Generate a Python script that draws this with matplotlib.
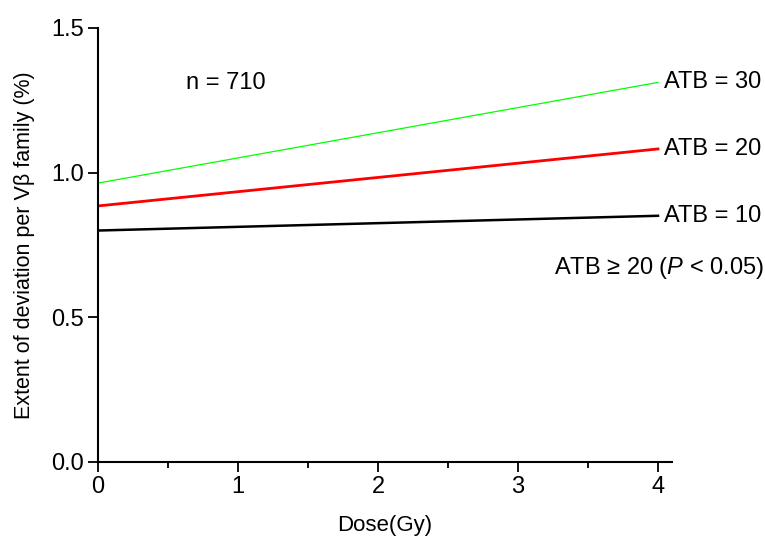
import matplotlib
matplotlib.use("Agg")
import matplotlib.pyplot as plt
from matplotlib.ticker import MultipleLocator

plt.rcParams['font.family'] = ['Liberation Sans', 'DejaVu Sans']
plt.rcParams['mathtext.fontset'] = 'custom'
plt.rcParams['mathtext.rm'] = 'Liberation Sans'
plt.rcParams['mathtext.it'] = 'Liberation Sans:italic'

dose = [0, 4]
atb30 = [0.964, 1.312]
atb20 = [0.885, 1.082]
atb10 = [0.800, 0.851]
series_labels = ["ATB = 30", "ATB = 20", "ATB = 10"]

fig = plt.figure(figsize=(7.65, 5.36), dpi=100)
ax = fig.add_axes([98/765, 1-462/536, (672-98)/765, (462-28)/536])

ax.plot(dose, atb30, color='#00ff00', lw=0.9)
ax.plot(dose, atb20, color='#ff0000', lw=2.0)
ax.plot(dose, atb10, color='black', lw=1.8)

for yv, lab in zip([atb30[-1], atb20[-1], atb10[-1]], series_labels):
    ax.text(4.04, yv, lab, fontsize=17, ha='left', va='center', clip_on=False)

ax.text(0.91, 1.31, "n = 710", fontsize=17, ha='center', va='center')
ax.text(4.76, 0.67, "ATB \u2265 20 ($\\it{P}$ < 0.05)", fontsize=17, ha='right', va='center', clip_on=False)

ax.set_xlim(0, 4.1)
ax.set_ylim(0, 1.5)
ax.xaxis.set_major_locator(MultipleLocator(1))
ax.xaxis.set_minor_locator(MultipleLocator(0.5))
ax.yaxis.set_major_locator(MultipleLocator(0.5))
ax.yaxis.set_major_formatter(matplotlib.ticker.FormatStrFormatter('%.1f'))
for s in ['top', 'right']:
    ax.spines[s].set_visible(False)
for s in ['left', 'bottom']:
    ax.spines[s].set_linewidth(1.5)
ax.tick_params(axis='both', which='major', direction='out', length=7, width=1.3, labelsize=17, pad=3)
ax.tick_params(axis='x', which='minor', direction='out', length=4, width=1.3)

ax.set_xlabel("Dose(Gy)", fontsize=16, labelpad=12)
ax.set_ylabel("Extent of deviation per V\u03b2 family (%)", fontsize=15.5, labelpad=12)

fig.savefig("out.png", dpi=100)
